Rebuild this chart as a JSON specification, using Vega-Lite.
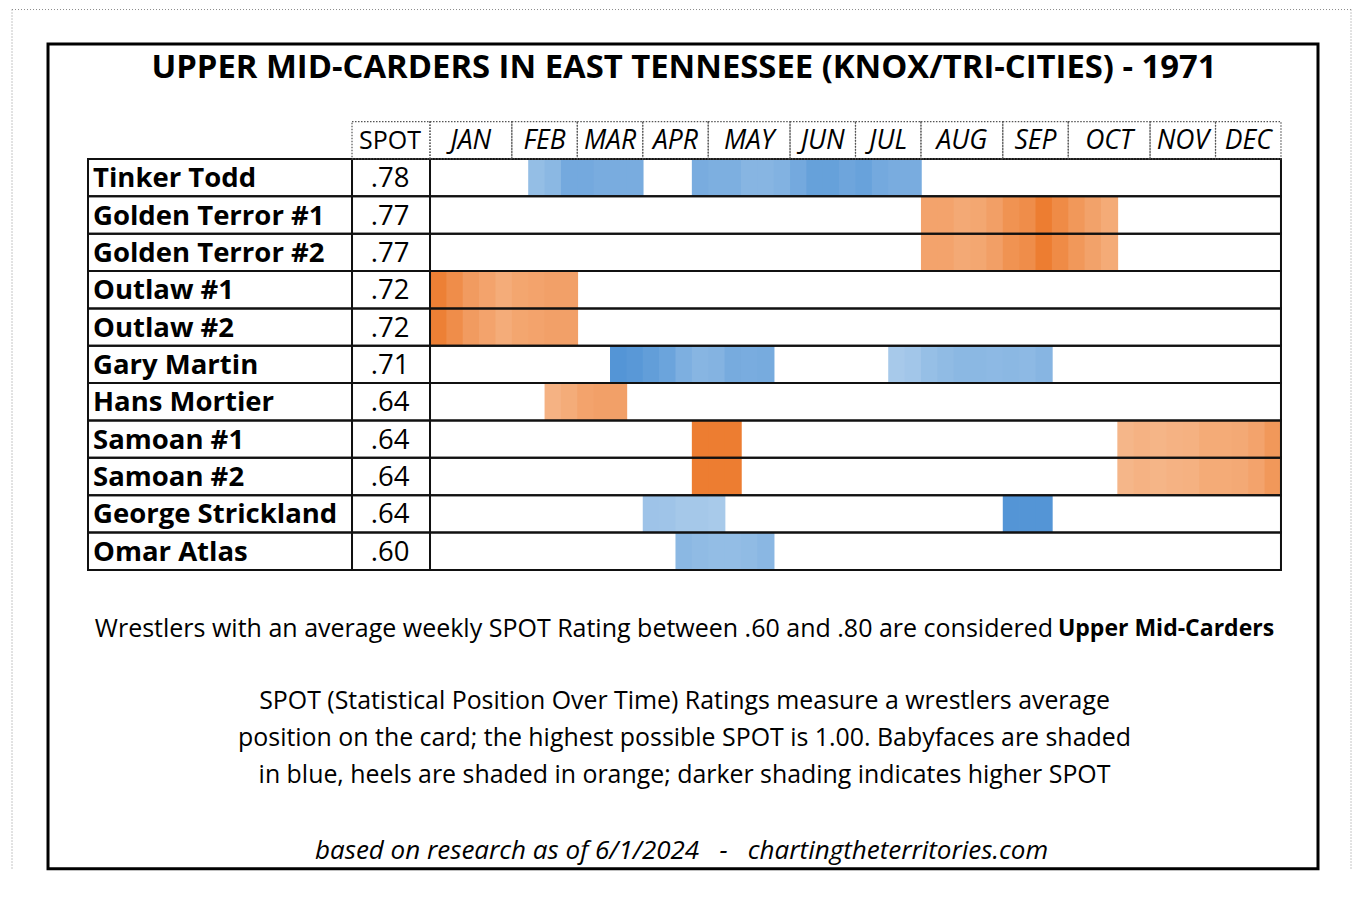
{
  "$schema": "https://vega.github.io/schema/vega-lite/v6.json",
  "width": 1354,
  "height": 899,
  "autosize": {"type": "none"},
  "padding": 0,
  "background": "white",
  "config": {"view": {"stroke": null}, "text": {"font": "Open Sans", "color": "#000"}},
  "datasets": {
    "wrestlers": [
      {"name": "Tinker Todd", "spot": ".78", "role": "face"},
      {"name": "Golden Terror #1", "spot": ".77", "role": "heel"},
      {"name": "Golden Terror #2", "spot": ".77", "role": "heel"},
      {"name": "Outlaw #1", "spot": ".72", "role": "heel"},
      {"name": "Outlaw #2", "spot": ".72", "role": "heel"},
      {"name": "Gary Martin", "spot": ".71", "role": "face"},
      {"name": "Hans Mortier", "spot": ".64", "role": "heel"},
      {"name": "Samoan #1", "spot": ".64", "role": "heel"},
      {"name": "Samoan #2", "spot": ".64", "role": "heel"},
      {"name": "George Strickland", "spot": ".64", "role": "face"},
      {"name": "Omar Atlas", "spot": ".60", "role": "face"}
    ],
    "weeks": [
      {"week": 1, "month": "JAN"}, {"week": 2, "month": "JAN"}, {"week": 3, "month": "JAN"}, {"week": 4, "month": "JAN"}, {"week": 5, "month": "JAN"},
      {"week": 6, "month": "FEB"}, {"week": 7, "month": "FEB"}, {"week": 8, "month": "FEB"}, {"week": 9, "month": "FEB"},
      {"week": 10, "month": "MAR"}, {"week": 11, "month": "MAR"}, {"week": 12, "month": "MAR"}, {"week": 13, "month": "MAR"},
      {"week": 14, "month": "APR"}, {"week": 15, "month": "APR"}, {"week": 16, "month": "APR"}, {"week": 17, "month": "APR"},
      {"week": 18, "month": "MAY"}, {"week": 19, "month": "MAY"}, {"week": 20, "month": "MAY"}, {"week": 21, "month": "MAY"}, {"week": 22, "month": "MAY"},
      {"week": 23, "month": "JUN"}, {"week": 24, "month": "JUN"}, {"week": 25, "month": "JUN"}, {"week": 26, "month": "JUN"},
      {"week": 27, "month": "JUL"}, {"week": 28, "month": "JUL"}, {"week": 29, "month": "JUL"}, {"week": 30, "month": "JUL"},
      {"week": 31, "month": "AUG"}, {"week": 32, "month": "AUG"}, {"week": 33, "month": "AUG"}, {"week": 34, "month": "AUG"}, {"week": 35, "month": "AUG"},
      {"week": 36, "month": "SEP"}, {"week": 37, "month": "SEP"}, {"week": 38, "month": "SEP"}, {"week": 39, "month": "SEP"},
      {"week": 40, "month": "OCT"}, {"week": 41, "month": "OCT"}, {"week": 42, "month": "OCT"}, {"week": 43, "month": "OCT"}, {"week": 44, "month": "OCT"},
      {"week": 45, "month": "NOV"}, {"week": 46, "month": "NOV"}, {"week": 47, "month": "NOV"}, {"week": 48, "month": "NOV"},
      {"week": 49, "month": "DEC"}, {"week": 50, "month": "DEC"}, {"week": 51, "month": "DEC"}, {"week": 52, "month": "DEC"}
    ],
    "cells": [
      {"name": "Tinker Todd", "week": 7, "rating": 0.58}, {"name": "Tinker Todd", "week": 8, "rating": 0.64}, {"name": "Tinker Todd", "week": 9, "rating": 0.79}, {"name": "Tinker Todd", "week": 10, "rating": 0.79}, {"name": "Tinker Todd", "week": 11, "rating": 0.76}, {"name": "Tinker Todd", "week": 12, "rating": 0.76}, {"name": "Tinker Todd", "week": 13, "rating": 0.76},
      {"name": "Tinker Todd", "week": 17, "rating": 0.76}, {"name": "Tinker Todd", "week": 18, "rating": 0.73}, {"name": "Tinker Todd", "week": 19, "rating": 0.73}, {"name": "Tinker Todd", "week": 20, "rating": 0.67}, {"name": "Tinker Todd", "week": 21, "rating": 0.67}, {"name": "Tinker Todd", "week": 22, "rating": 0.70}, {"name": "Tinker Todd", "week": 23, "rating": 0.79}, {"name": "Tinker Todd", "week": 24, "rating": 0.88}, {"name": "Tinker Todd", "week": 25, "rating": 0.88}, {"name": "Tinker Todd", "week": 26, "rating": 0.83}, {"name": "Tinker Todd", "week": 27, "rating": 0.87}, {"name": "Tinker Todd", "week": 28, "rating": 0.79}, {"name": "Tinker Todd", "week": 29, "rating": 0.76}, {"name": "Tinker Todd", "week": 30, "rating": 0.76},
      {"name": "Golden Terror #1", "week": 31, "rating": 0.70}, {"name": "Golden Terror #1", "week": 32, "rating": 0.70}, {"name": "Golden Terror #1", "week": 33, "rating": 0.65}, {"name": "Golden Terror #1", "week": 34, "rating": 0.67}, {"name": "Golden Terror #1", "week": 35, "rating": 0.73}, {"name": "Golden Terror #1", "week": 36, "rating": 0.83}, {"name": "Golden Terror #1", "week": 37, "rating": 0.87}, {"name": "Golden Terror #1", "week": 38, "rating": 1.00}, {"name": "Golden Terror #1", "week": 39, "rating": 0.89}, {"name": "Golden Terror #1", "week": 40, "rating": 0.79}, {"name": "Golden Terror #1", "week": 41, "rating": 0.71}, {"name": "Golden Terror #1", "week": 42, "rating": 0.64},
      {"name": "Golden Terror #2", "week": 31, "rating": 0.70}, {"name": "Golden Terror #2", "week": 32, "rating": 0.70}, {"name": "Golden Terror #2", "week": 33, "rating": 0.65}, {"name": "Golden Terror #2", "week": 34, "rating": 0.67}, {"name": "Golden Terror #2", "week": 35, "rating": 0.73}, {"name": "Golden Terror #2", "week": 36, "rating": 0.83}, {"name": "Golden Terror #2", "week": 37, "rating": 0.87}, {"name": "Golden Terror #2", "week": 38, "rating": 1.00}, {"name": "Golden Terror #2", "week": 39, "rating": 0.89}, {"name": "Golden Terror #2", "week": 40, "rating": 0.79}, {"name": "Golden Terror #2", "week": 41, "rating": 0.71}, {"name": "Golden Terror #2", "week": 42, "rating": 0.64},
      {"name": "Outlaw #1", "week": 1, "rating": 0.98}, {"name": "Outlaw #1", "week": 2, "rating": 0.87}, {"name": "Outlaw #1", "week": 3, "rating": 0.76}, {"name": "Outlaw #1", "week": 4, "rating": 0.70}, {"name": "Outlaw #1", "week": 5, "rating": 0.63}, {"name": "Outlaw #1", "week": 6, "rating": 0.68}, {"name": "Outlaw #1", "week": 7, "rating": 0.70}, {"name": "Outlaw #1", "week": 8, "rating": 0.72}, {"name": "Outlaw #1", "week": 9, "rating": 0.72},
      {"name": "Outlaw #2", "week": 1, "rating": 0.98}, {"name": "Outlaw #2", "week": 2, "rating": 0.87}, {"name": "Outlaw #2", "week": 3, "rating": 0.76}, {"name": "Outlaw #2", "week": 4, "rating": 0.70}, {"name": "Outlaw #2", "week": 5, "rating": 0.63}, {"name": "Outlaw #2", "week": 6, "rating": 0.68}, {"name": "Outlaw #2", "week": 7, "rating": 0.70}, {"name": "Outlaw #2", "week": 8, "rating": 0.72}, {"name": "Outlaw #2", "week": 9, "rating": 0.72},
      {"name": "Gary Martin", "week": 12, "rating": 1.00}, {"name": "Gary Martin", "week": 13, "rating": 0.97}, {"name": "Gary Martin", "week": 14, "rating": 0.91}, {"name": "Gary Martin", "week": 15, "rating": 0.85}, {"name": "Gary Martin", "week": 16, "rating": 0.73}, {"name": "Gary Martin", "week": 17, "rating": 0.67}, {"name": "Gary Martin", "week": 18, "rating": 0.69}, {"name": "Gary Martin", "week": 19, "rating": 0.77}, {"name": "Gary Martin", "week": 20, "rating": 0.76}, {"name": "Gary Martin", "week": 21, "rating": 0.77},
      {"name": "Gary Martin", "week": 29, "rating": 0.46}, {"name": "Gary Martin", "week": 30, "rating": 0.49}, {"name": "Gary Martin", "week": 31, "rating": 0.57}, {"name": "Gary Martin", "week": 32, "rating": 0.61}, {"name": "Gary Martin", "week": 33, "rating": 0.64}, {"name": "Gary Martin", "week": 34, "rating": 0.64}, {"name": "Gary Martin", "week": 35, "rating": 0.63}, {"name": "Gary Martin", "week": 36, "rating": 0.64}, {"name": "Gary Martin", "week": 37, "rating": 0.63}, {"name": "Gary Martin", "week": 38, "rating": 0.67},
      {"name": "Hans Mortier", "week": 8, "rating": 0.58}, {"name": "Hans Mortier", "week": 9, "rating": 0.63}, {"name": "Hans Mortier", "week": 10, "rating": 0.70}, {"name": "Hans Mortier", "week": 11, "rating": 0.72}, {"name": "Hans Mortier", "week": 12, "rating": 0.72},
      {"name": "Samoan #1", "week": 17, "rating": 1.00}, {"name": "Samoan #1", "week": 18, "rating": 1.00}, {"name": "Samoan #1", "week": 19, "rating": 1.00},
      {"name": "Samoan #1", "week": 43, "rating": 0.55}, {"name": "Samoan #1", "week": 44, "rating": 0.58}, {"name": "Samoan #1", "week": 45, "rating": 0.56}, {"name": "Samoan #1", "week": 46, "rating": 0.58}, {"name": "Samoan #1", "week": 47, "rating": 0.59}, {"name": "Samoan #1", "week": 48, "rating": 0.64}, {"name": "Samoan #1", "week": 49, "rating": 0.64}, {"name": "Samoan #1", "week": 50, "rating": 0.65}, {"name": "Samoan #1", "week": 51, "rating": 0.70}, {"name": "Samoan #1", "week": 52, "rating": 0.79},
      {"name": "Samoan #2", "week": 17, "rating": 1.00}, {"name": "Samoan #2", "week": 18, "rating": 1.00}, {"name": "Samoan #2", "week": 19, "rating": 1.00},
      {"name": "Samoan #2", "week": 43, "rating": 0.55}, {"name": "Samoan #2", "week": 44, "rating": 0.58}, {"name": "Samoan #2", "week": 45, "rating": 0.56}, {"name": "Samoan #2", "week": 46, "rating": 0.58}, {"name": "Samoan #2", "week": 47, "rating": 0.59}, {"name": "Samoan #2", "week": 48, "rating": 0.64}, {"name": "Samoan #2", "week": 49, "rating": 0.64}, {"name": "Samoan #2", "week": 50, "rating": 0.65}, {"name": "Samoan #2", "week": 51, "rating": 0.70}, {"name": "Samoan #2", "week": 52, "rating": 0.79},
      {"name": "George Strickland", "week": 14, "rating": 0.52}, {"name": "George Strickland", "week": 15, "rating": 0.51}, {"name": "George Strickland", "week": 16, "rating": 0.47}, {"name": "George Strickland", "week": 17, "rating": 0.47}, {"name": "George Strickland", "week": 18, "rating": 0.45},
      {"name": "George Strickland", "week": 36, "rating": 1.00}, {"name": "George Strickland", "week": 37, "rating": 1.00}, {"name": "George Strickland", "week": 38, "rating": 1.00},
      {"name": "Omar Atlas", "week": 16, "rating": 0.64}, {"name": "Omar Atlas", "week": 17, "rating": 0.61}, {"name": "Omar Atlas", "week": 18, "rating": 0.59}, {"name": "Omar Atlas", "week": 19, "rating": 0.59}, {"name": "Omar Atlas", "week": 20, "rating": 0.61}, {"name": "Omar Atlas", "week": 21, "rating": 0.65}
    ]
  },
  "layer": [
    {
      "data": {"values": [{}]},
      "mark": {"type": "rule", "stroke": "#8c8c8c", "strokeWidth": 1, "strokeDash": [1, 2]},
      "encoding": {
        "x": {"datum": -25.042, "type": "quantitative", "scale": {"type": "linear", "domain": [-25.776, 56.962], "nice": false, "zero": false}, "axis": null},
        "x2": {"datum": 56.779},
        "y": {"datum": "page", "type": "nominal", "bandPosition": 0, "scale": {"type": "band", "domain": ["page", "title", "gap1", "header", "Tinker Todd", "Golden Terror #1", "Golden Terror #2", "Outlaw #1", "Outlaw #2", "Gary Martin", "Hans Mortier", "Samoan #1", "Samoan #2", "George Strickland", "Omar Atlas", "gap2", "note1", "gap3", "note2", "note3", "note4", "gap4", "note5"], "paddingInner": 0, "paddingOuter": 0.5316, "align": 0.2397, "round": false}, "axis": null}
      }
    },
    {
      "data": {"values": [{"edge": -25.042}, {"edge": 56.779}]},
      "mark": {"type": "rule", "stroke": "#8c8c8c", "strokeWidth": 1, "strokeDash": [1, 2]},
      "encoding": {
        "x": {"field": "edge", "type": "quantitative", "scale": {"type": "linear", "domain": [-25.776, 56.962], "nice": false, "zero": false}, "axis": null},
        "y": {"datum": "page", "type": "nominal", "bandPosition": 0, "scale": {"type": "band", "domain": ["page", "title", "gap1", "header", "Tinker Todd", "Golden Terror #1", "Golden Terror #2", "Outlaw #1", "Outlaw #2", "Gary Martin", "Hans Mortier", "Samoan #1", "Samoan #2", "George Strickland", "Omar Atlas", "gap2", "note1", "gap3", "note2", "note3", "note4", "gap4", "note5"], "paddingInner": 0, "paddingOuter": 0.5316, "align": 0.2397, "round": false}, "axis": null},
        "y2": {"datum": "note5", "bandPosition": 1}
      }
    },
    {
      "data": {"values": [{}]},
      "mark": {"type": "rect", "fillOpacity": 0, "stroke": "#000", "strokeWidth": 3, "yOffset": -3},
      "encoding": {
        "x": {"datum": -22.842, "type": "quantitative", "scale": {"type": "linear", "domain": [-25.776, 56.962], "nice": false, "zero": false}, "axis": null},
        "x2": {"datum": 54.762},
        "y": {"datum": "title", "type": "nominal", "bandPosition": 0, "scale": {"type": "band", "domain": ["page", "title", "gap1", "header", "Tinker Todd", "Golden Terror #1", "Golden Terror #2", "Outlaw #1", "Outlaw #2", "Gary Martin", "Hans Mortier", "Samoan #1", "Samoan #2", "George Strickland", "Omar Atlas", "gap2", "note1", "gap3", "note2", "note3", "note4", "gap4", "note5"], "paddingInner": 0, "paddingOuter": 0.5316, "align": 0.2397, "round": false}, "axis": null},
        "y2": {"datum": "note5", "bandPosition": 1}
      }
    },
    {
      "data": {"name": "cells"},
      "transform": [
        {"lookup": "name", "from": {"data": {"name": "wrestlers"}, "key": "name", "fields": ["role"]}},
        {"filter": "datum.role === 'face'"},
        {"bin": {"step": 1, "anchor": 0.5, "extent": [0.5, 52.5], "nice": false}, "field": "week", "as": ["w0", "w1"]}
      ],
      "mark": {"type": "rect", "x2Offset": 0.8},
      "encoding": {
        "x": {"field": "w0", "type": "quantitative", "scale": {"type": "linear", "domain": [-25.776, 56.962], "nice": false, "zero": false}, "axis": null},
        "x2": {"field": "w1"},
        "y": {"field": "name", "type": "nominal", "scale": {"type": "band", "domain": ["page", "title", "gap1", "header", "Tinker Todd", "Golden Terror #1", "Golden Terror #2", "Outlaw #1", "Outlaw #2", "Gary Martin", "Hans Mortier", "Samoan #1", "Samoan #2", "George Strickland", "Omar Atlas", "gap2", "note1", "gap3", "note2", "note3", "note4", "gap4", "note5"], "paddingInner": 0, "paddingOuter": 0.5316, "align": 0.2397, "round": false}, "axis": null},
        "color": {"field": "rating", "type": "quantitative", "scale": {"domain": [0.4, 1.0], "range": ["#b0cfec", "#5495d6"], "interpolate": "rgb"}, "legend": null}
      }
    },
    {
      "data": {"name": "cells"},
      "transform": [
        {"lookup": "name", "from": {"data": {"name": "wrestlers"}, "key": "name", "fields": ["role"]}},
        {"filter": "datum.role === 'heel'"},
        {"bin": {"step": 1, "anchor": 0.5, "extent": [0.5, 52.5], "nice": false}, "field": "week", "as": ["w0", "w1"]}
      ],
      "mark": {"type": "rect", "x2Offset": 0.8},
      "encoding": {
        "x": {"field": "w0", "type": "quantitative", "scale": {"type": "linear", "domain": [-25.776, 56.962], "nice": false, "zero": false}, "axis": null},
        "x2": {"field": "w1"},
        "y": {"field": "name", "type": "nominal", "scale": {"type": "band", "domain": ["page", "title", "gap1", "header", "Tinker Todd", "Golden Terror #1", "Golden Terror #2", "Outlaw #1", "Outlaw #2", "Gary Martin", "Hans Mortier", "Samoan #1", "Samoan #2", "George Strickland", "Omar Atlas", "gap2", "note1", "gap3", "note2", "note3", "note4", "gap4", "note5"], "paddingInner": 0, "paddingOuter": 0.5316, "align": 0.2397, "round": false}, "axis": null},
        "color": {"field": "rating", "type": "quantitative", "scale": {"domain": [0.4, 1.0], "range": ["#f8c9a6", "#ed7d31"], "interpolate": "rgb"}, "legend": null}
      }
    },
    {
      "data": {"name": "wrestlers"},
      "mark": {"type": "rect", "fillOpacity": 0, "stroke": "#111", "strokeWidth": 2},
      "encoding": {
        "x": {"datum": -20.398, "type": "quantitative", "scale": {"type": "linear", "domain": [-25.776, 56.962], "nice": false, "zero": false}, "axis": null},
        "x2": {"datum": -4.266},
        "y": {"field": "name", "type": "nominal", "scale": {"type": "band", "domain": ["page", "title", "gap1", "header", "Tinker Todd", "Golden Terror #1", "Golden Terror #2", "Outlaw #1", "Outlaw #2", "Gary Martin", "Hans Mortier", "Samoan #1", "Samoan #2", "George Strickland", "Omar Atlas", "gap2", "note1", "gap3", "note2", "note3", "note4", "gap4", "note5"], "paddingInner": 0, "paddingOuter": 0.5316, "align": 0.2397, "round": false}, "axis": null}
      }
    },
    {
      "data": {"name": "wrestlers"},
      "mark": {"type": "rect", "fillOpacity": 0, "stroke": "#111", "strokeWidth": 2},
      "encoding": {
        "x": {"datum": -4.266, "type": "quantitative", "scale": {"type": "linear", "domain": [-25.776, 56.962], "nice": false, "zero": false}, "axis": null},
        "x2": {"datum": 0.5},
        "y": {"field": "name", "type": "nominal", "scale": {"type": "band", "domain": ["page", "title", "gap1", "header", "Tinker Todd", "Golden Terror #1", "Golden Terror #2", "Outlaw #1", "Outlaw #2", "Gary Martin", "Hans Mortier", "Samoan #1", "Samoan #2", "George Strickland", "Omar Atlas", "gap2", "note1", "gap3", "note2", "note3", "note4", "gap4", "note5"], "paddingInner": 0, "paddingOuter": 0.5316, "align": 0.2397, "round": false}, "axis": null}
      }
    },
    {
      "data": {"name": "wrestlers"},
      "mark": {"type": "rect", "fillOpacity": 0, "stroke": "#111", "strokeWidth": 2},
      "encoding": {
        "x": {"datum": 0.5, "type": "quantitative", "scale": {"type": "linear", "domain": [-25.776, 56.962], "nice": false, "zero": false}, "axis": null},
        "x2": {"datum": 52.5},
        "y": {"field": "name", "type": "nominal", "scale": {"type": "band", "domain": ["page", "title", "gap1", "header", "Tinker Todd", "Golden Terror #1", "Golden Terror #2", "Outlaw #1", "Outlaw #2", "Gary Martin", "Hans Mortier", "Samoan #1", "Samoan #2", "George Strickland", "Omar Atlas", "gap2", "note1", "gap3", "note2", "note3", "note4", "gap4", "note5"], "paddingInner": 0, "paddingOuter": 0.5316, "align": 0.2397, "round": false}, "axis": null}
      }
    },
    {
      "data": {"name": "weeks"},
      "transform": [
        {"bin": {"step": 1, "anchor": 0.5, "extent": [0.5, 52.5], "nice": false}, "field": "week", "as": ["w0", "w1"]},
        {"aggregate": [{"op": "min", "field": "w0", "as": "first"}, {"op": "max", "field": "w1", "as": "last"}], "groupby": ["month"]}
      ],
      "mark": {"type": "rect", "fillOpacity": 0, "stroke": "#555", "strokeWidth": 1.2, "strokeDash": [1.5, 1.5]},
      "encoding": {
        "x": {"field": "first", "type": "quantitative", "scale": {"type": "linear", "domain": [-25.776, 56.962], "nice": false, "zero": false}, "axis": null},
        "x2": {"field": "last"},
        "y": {"datum": "header", "type": "nominal", "scale": {"type": "band", "domain": ["page", "title", "gap1", "header", "Tinker Todd", "Golden Terror #1", "Golden Terror #2", "Outlaw #1", "Outlaw #2", "Gary Martin", "Hans Mortier", "Samoan #1", "Samoan #2", "George Strickland", "Omar Atlas", "gap2", "note1", "gap3", "note2", "note3", "note4", "gap4", "note5"], "paddingInner": 0, "paddingOuter": 0.5316, "align": 0.2397, "round": false}, "axis": null}
      }
    },
    {
      "data": {"values": [{"label": "SPOT"}]},
      "mark": {"type": "rect", "fillOpacity": 0, "stroke": "#555", "strokeWidth": 1.2, "strokeDash": [1.5, 1.5]},
      "encoding": {
        "x": {"datum": -4.266, "type": "quantitative", "scale": {"type": "linear", "domain": [-25.776, 56.962], "nice": false, "zero": false}, "axis": null},
        "x2": {"datum": 0.5},
        "y": {"datum": "header", "type": "nominal", "scale": {"type": "band", "domain": ["page", "title", "gap1", "header", "Tinker Todd", "Golden Terror #1", "Golden Terror #2", "Outlaw #1", "Outlaw #2", "Gary Martin", "Hans Mortier", "Samoan #1", "Samoan #2", "George Strickland", "Omar Atlas", "gap2", "note1", "gap3", "note2", "note3", "note4", "gap4", "note5"], "paddingInner": 0, "paddingOuter": 0.5316, "align": 0.2397, "round": false}, "axis": null}
      }
    },
    {
      "data": {"values": [{"label": "SPOT"}]},
      "mark": {"type": "text", "fontSize": 25, "align": "center", "baseline": "middle", "dy": 1},
      "encoding": {
        "x": {"datum": -1.944, "type": "quantitative", "scale": {"type": "linear", "domain": [-25.776, 56.962], "nice": false, "zero": false}, "axis": null},
        "y": {"datum": "header", "type": "nominal", "scale": {"type": "band", "domain": ["page", "title", "gap1", "header", "Tinker Todd", "Golden Terror #1", "Golden Terror #2", "Outlaw #1", "Outlaw #2", "Gary Martin", "Hans Mortier", "Samoan #1", "Samoan #2", "George Strickland", "Omar Atlas", "gap2", "note1", "gap3", "note2", "note3", "note4", "gap4", "note5"], "paddingInner": 0, "paddingOuter": 0.5316, "align": 0.2397, "round": false}, "axis": null},
        "text": {"field": "label"}
      }
    },
    {
      "data": {"name": "weeks"},
      "transform": [
        {"aggregate": [{"op": "mean", "field": "week", "as": "mid"}], "groupby": ["month"]}
      ],
      "mark": {"type": "text", "fontSize": 26.5, "fontStyle": "italic", "align": "center", "baseline": "middle", "dy": 1},
      "encoding": {
        "x": {"field": "mid", "type": "quantitative", "scale": {"type": "linear", "domain": [-25.776, 56.962], "nice": false, "zero": false}, "axis": null},
        "y": {"datum": "header", "type": "nominal", "scale": {"type": "band", "domain": ["page", "title", "gap1", "header", "Tinker Todd", "Golden Terror #1", "Golden Terror #2", "Outlaw #1", "Outlaw #2", "Gary Martin", "Hans Mortier", "Samoan #1", "Samoan #2", "George Strickland", "Omar Atlas", "gap2", "note1", "gap3", "note2", "note3", "note4", "gap4", "note5"], "paddingInner": 0, "paddingOuter": 0.5316, "align": 0.2397, "round": false}, "axis": null},
        "text": {"field": "month"}
      }
    },
    {
      "data": {"name": "wrestlers"},
      "mark": {"type": "text", "fontSize": 27.5, "fontWeight": "bold", "align": "left", "baseline": "middle", "dy": 1.5},
      "encoding": {
        "x": {"datum": -20.093, "type": "quantitative", "scale": {"type": "linear", "domain": [-25.776, 56.962], "nice": false, "zero": false}, "axis": null},
        "y": {"field": "name", "type": "nominal", "scale": {"type": "band", "domain": ["page", "title", "gap1", "header", "Tinker Todd", "Golden Terror #1", "Golden Terror #2", "Outlaw #1", "Outlaw #2", "Gary Martin", "Hans Mortier", "Samoan #1", "Samoan #2", "George Strickland", "Omar Atlas", "gap2", "note1", "gap3", "note2", "note3", "note4", "gap4", "note5"], "paddingInner": 0, "paddingOuter": 0.5316, "align": 0.2397, "round": false}, "axis": null},
        "text": {"field": "name"}
      }
    },
    {
      "data": {"name": "wrestlers"},
      "mark": {"type": "text", "fontSize": 27.5, "align": "center", "baseline": "middle", "dy": 1.5},
      "encoding": {
        "x": {"datum": -1.944, "type": "quantitative", "scale": {"type": "linear", "domain": [-25.776, 56.962], "nice": false, "zero": false}, "axis": null},
        "y": {"field": "name", "type": "nominal", "scale": {"type": "band", "domain": ["page", "title", "gap1", "header", "Tinker Todd", "Golden Terror #1", "Golden Terror #2", "Outlaw #1", "Outlaw #2", "Gary Martin", "Hans Mortier", "Samoan #1", "Samoan #2", "George Strickland", "Omar Atlas", "gap2", "note1", "gap3", "note2", "note3", "note4", "gap4", "note5"], "paddingInner": 0, "paddingOuter": 0.5316, "align": 0.2397, "round": false}, "axis": null},
        "text": {"field": "spot"}
      }
    },
    {
      "data": {"values": [{"row": "title", "text": "UPPER MID-CARDERS IN EAST TENNESSEE (KNOX/TRI-CITIES) - 1971"}]},
      "mark": {"type": "text", "fontSize": 32.8, "fontWeight": "bold", "align": "center", "baseline": "middle", "dy": 2.5},
      "encoding": {
        "x": {"datum": 16.02, "type": "quantitative", "scale": {"type": "linear", "domain": [-25.776, 56.962], "nice": false, "zero": false}, "axis": null},
        "y": {"field": "row", "type": "nominal", "scale": {"type": "band", "domain": ["page", "title", "gap1", "header", "Tinker Todd", "Golden Terror #1", "Golden Terror #2", "Outlaw #1", "Outlaw #2", "Gary Martin", "Hans Mortier", "Samoan #1", "Samoan #2", "George Strickland", "Omar Atlas", "gap2", "note1", "gap3", "note2", "note3", "note4", "gap4", "note5"], "paddingInner": 0, "paddingOuter": 0.5316, "align": 0.2397, "round": false}, "axis": null},
        "text": {"field": "text"}
      }
    },
    {
      "data": {"values": [
        {"row": "note2", "text": "SPOT (Statistical Position Over Time) Ratings measure a wrestlers average"},
        {"row": "note3", "text": "position on the card; the highest possible SPOT is 1.00. Babyfaces are shaded"},
        {"row": "note4", "text": "in blue, heels are shaded in orange; darker shading indicates higher SPOT"}
      ]},
      "mark": {"type": "text", "fontSize": 24.9, "align": "center", "baseline": "middle", "dy": 1},
      "encoding": {
        "x": {"datum": 16.052, "type": "quantitative", "scale": {"type": "linear", "domain": [-25.776, 56.962], "nice": false, "zero": false}, "axis": null},
        "y": {"field": "row", "type": "nominal", "scale": {"type": "band", "domain": ["page", "title", "gap1", "header", "Tinker Todd", "Golden Terror #1", "Golden Terror #2", "Outlaw #1", "Outlaw #2", "Gary Martin", "Hans Mortier", "Samoan #1", "Samoan #2", "George Strickland", "Omar Atlas", "gap2", "note1", "gap3", "note2", "note3", "note4", "gap4", "note5"], "paddingInner": 0, "paddingOuter": 0.5316, "align": 0.2397, "round": false}, "axis": null},
        "text": {"field": "text"}
      }
    },
    {
      "data": {"values": [{"row": "note1", "text": "Wrestlers with an average weekly SPOT Rating between .60 and .80 are considered"}]},
      "mark": {"type": "text", "fontSize": 25, "align": "right", "baseline": "middle", "dy": 3},
      "encoding": {
        "x": {"datum": 38.57, "type": "quantitative", "scale": {"type": "linear", "domain": [-25.776, 56.962], "nice": false, "zero": false}, "axis": null},
        "y": {"field": "row", "type": "nominal", "scale": {"type": "band", "domain": ["page", "title", "gap1", "header", "Tinker Todd", "Golden Terror #1", "Golden Terror #2", "Outlaw #1", "Outlaw #2", "Gary Martin", "Hans Mortier", "Samoan #1", "Samoan #2", "George Strickland", "Omar Atlas", "gap2", "note1", "gap3", "note2", "note3", "note4", "gap4", "note5"], "paddingInner": 0, "paddingOuter": 0.5316, "align": 0.2397, "round": false}, "axis": null},
        "text": {"field": "text"}
      }
    },
    {
      "data": {"values": [{"row": "note1", "text": "Upper Mid-Carders"}]},
      "mark": {"type": "text", "fontSize": 23, "fontWeight": "bold", "align": "left", "baseline": "middle", "dy": 3},
      "encoding": {
        "x": {"datum": 38.87, "type": "quantitative", "scale": {"type": "linear", "domain": [-25.776, 56.962], "nice": false, "zero": false}, "axis": null},
        "y": {"field": "row", "type": "nominal", "scale": {"type": "band", "domain": ["page", "title", "gap1", "header", "Tinker Todd", "Golden Terror #1", "Golden Terror #2", "Outlaw #1", "Outlaw #2", "Gary Martin", "Hans Mortier", "Samoan #1", "Samoan #2", "George Strickland", "Omar Atlas", "gap2", "note1", "gap3", "note2", "note3", "note4", "gap4", "note5"], "paddingInner": 0, "paddingOuter": 0.5316, "align": 0.2397, "round": false}, "axis": null},
        "text": {"field": "text"}
      }
    },
    {
      "data": {"values": [{"row": "note5", "text": "based on research as of 6/1/2024\u00a0\u00a0\u00a0-\u00a0\u00a0\u00a0chartingtheterritories.com"}]},
      "mark": {"type": "text", "fontSize": 26, "fontStyle": "italic", "align": "center", "baseline": "middle", "dy": 1},
      "encoding": {
        "x": {"datum": 15.87, "type": "quantitative", "scale": {"type": "linear", "domain": [-25.776, 56.962], "nice": false, "zero": false}, "axis": null},
        "y": {"field": "row", "type": "nominal", "scale": {"type": "band", "domain": ["page", "title", "gap1", "header", "Tinker Todd", "Golden Terror #1", "Golden Terror #2", "Outlaw #1", "Outlaw #2", "Gary Martin", "Hans Mortier", "Samoan #1", "Samoan #2", "George Strickland", "Omar Atlas", "gap2", "note1", "gap3", "note2", "note3", "note4", "gap4", "note5"], "paddingInner": 0, "paddingOuter": 0.5316, "align": 0.2397, "round": false}, "axis": null},
        "text": {"field": "text"}
      }
    }
  ],
  "resolve": {"scale": {"color": "independent"}}
}
